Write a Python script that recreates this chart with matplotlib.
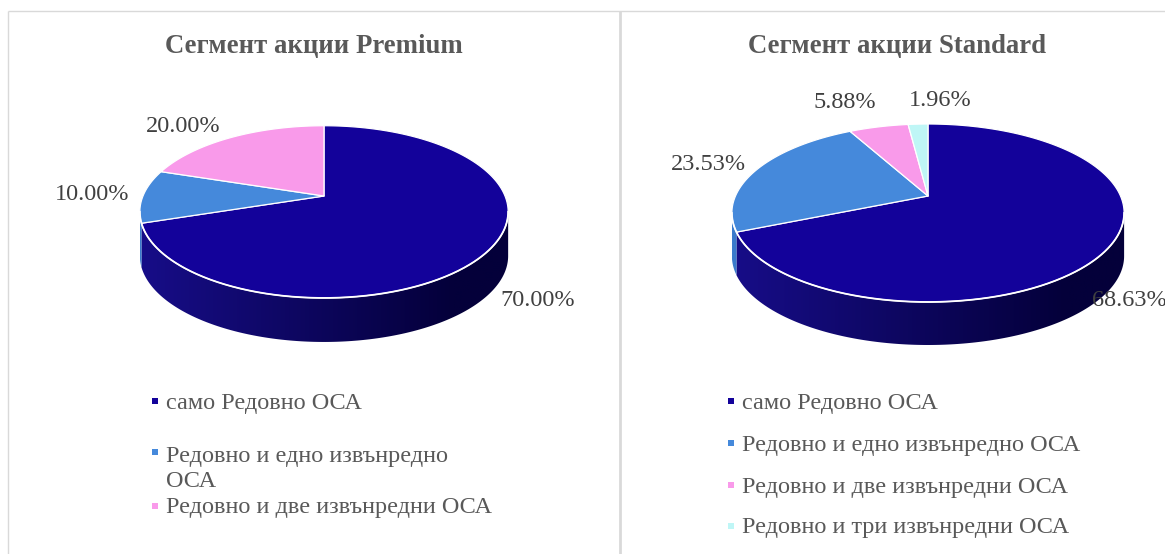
import numpy as np
import matplotlib
matplotlib.use("Agg")
import matplotlib.pyplot as plt
from matplotlib.patches import Polygon
from matplotlib.colors import to_rgb

# ---------------- data ----------------
premium_title = "Сегмент акции Premium"
premium_categories = ["само Редовно ОСА",
                      "Редовно и едно извънредно\nОСА",
                      "Редовно и две извънредни ОСА"]
premium_values = [70.00, 10.00, 20.00]

standard_title = "Сегмент акции Standard"
standard_categories = ["само Редовно ОСА",
                       "Редовно и едно извънредно ОСА",
                       "Редовно и две извънредни ОСА",
                       "Редовно и три извънредни ОСА"]
standard_values = [68.63, 23.53, 5.88, 1.96]

# ---------------- style ----------------
top_colors = ["#13029a", "#4589db", "#f99aea", "#bff6f6"]
side_light = ["#170d88", "#3b7bcc", "#e58ad6", "#a8e6e6"]
side_dark = ["#04003a", "#1d4a8a", "#9a4f90", "#6fa8a8"]
FONT = "Liberation Serif"
LABEL_COLOR = "#404040"
TEXT_COLOR = "#595959"
BORDER = "#d9d9d9"
LINE_H = 29.6  # legend line height in pixels

W, H = 1165, 554
fig = plt.figure(figsize=(W / 100, H / 100), dpi=100)
ax = fig.add_axes([0, 0, 1, 1])
ax.axis("off")

# panel borders
ax.plot([8, 8], [11, H], color=BORDER, lw=1.0, solid_capstyle="butt")
ax.plot([8, W], [11, 11], color=BORDER, lw=1.0, solid_capstyle="butt")
ax.plot([620, 620], [11, H], color=BORDER, lw=2.0, solid_capstyle="butt")


def proj(theta_deg, cx, cy, rx, ry, k):
    t = np.radians(theta_deg)
    u, v = np.cos(t), np.sin(t)
    w = 1 + k * v
    return cx + rx * u / w, cy - ry * v / w


def pie3d(values, cx, cy, rx, ry, k, depth):
    vals = np.asarray(values, float)
    cum = np.concatenate([[0], np.cumsum(vals)]) / vals.sum() * 360
    # visible side range (between silhouette extremes, through the front)
    a1 = 180 + np.degrees(np.arcsin(k))
    a2 = 360 - np.degrees(np.arcsin(k))
    allx, _ = proj(np.linspace(a1, a2, 400), cx, cy, rx, ry, k)
    xmin, xmax = allx.min(), allx.max()
    for i in range(len(vals)):
        hi = (90 - cum[i]) % 360
        lo = hi - (cum[i + 1] - cum[i])
        for shift in (-360, 0, 360):
            s, e = max(lo + shift, a1), min(hi + shift, a2)
            if e <= s:
                continue
            th = np.linspace(s, e, 200)
            px, py = proj(th, cx, cy, rx, ry, k)
            pts = list(zip(px, py)) + list(zip(px[::-1], py[::-1] + depth))
            clip = Polygon(pts, closed=True, facecolor="none", edgecolor="none")
            ax.add_patch(clip)
            n = 300
            t = np.clip(np.linspace(0, 1, n) / 0.85, 0, 1)[None, :, None]
            c0 = np.array(to_rgb(side_light[i]))[None, None, :]
            c1 = np.array(to_rgb(side_dark[i]))[None, None, :]
            img = (1 - t) * c0 + t * c1
            ytop = py.min() - 2
            ybot = py.max() + depth + 2
            im = ax.imshow(img, extent=(xmin, xmax, ybot, ytop), aspect="auto",
                           interpolation="bilinear", zorder=1)
            im.set_clip_path(clip)
    # top faces
    for i in range(len(vals)):
        start = 90 - cum[i]
        end = 90 - cum[i + 1]
        th = np.linspace(start, end, max(int(abs(end - start) * 2), 4))
        px, py = proj(th, cx, cy, rx, ry, k)
        pts = [(cx, cy)] + list(zip(px, py))
        ax.add_patch(Polygon(pts, closed=True, facecolor=top_colors[i],
                             edgecolor="white", lw=0.9, joinstyle="round", zorder=2))
    # white rim at the front
    thetas = np.linspace(a1, a2, 400)
    rxs, rys = proj(thetas, cx, cy, rx, ry, k)
    ax.plot(rxs, rys, color="white", lw=1.3, zorder=3)


def labels(values, positions):
    for v, (x, y) in zip(values, positions):
        ax.text(x, y, f"{v:.2f}%", family=FONT, fontsize=17.5, color=LABEL_COLOR,
                ha="center", va="center", zorder=4)


def legend(cats, x_marker, x_text, ys):
    for i, (c, y) in enumerate(zip(cats, ys)):
        nlines = c.count("\n") + 1
        y_first = y - (nlines - 1) * LINE_H / 2
        ax.plot([x_marker], [y_first - 2], marker="s", markersize=5,
                color=top_colors[i], markeredgewidth=0)
        ax.text(x_text, y, c, family=FONT, fontsize=17.5, color=TEXT_COLOR,
                ha="left", va="center", linespacing=1.22)


# Premium
ax.text(314, 47, premium_title, family=FONT, fontsize=19.3, fontweight="bold",
        color=TEXT_COLOR, ha="center", va="center")
pie3d(premium_values, 324, 196, 181, 83.2, 0.184, 44)
labels(premium_values, [(538, 300), (92, 195), (183, 127)])
legend(premium_categories, 155, 166, [403, 469, 508])

# Standard
ax.text(897, 47, standard_title, family=FONT, fontsize=19.3, fontweight="bold",
        color=TEXT_COLOR, ha="center", va="center")
pie3d(standard_values, 928, 196, 192.5, 85.75, 0.191, 43)
labels(standard_values, [(1129, 301), (708, 165), (845, 103), (940, 100)])
legend(standard_categories, 731, 742, [403, 445, 487, 528])

ax.set_xlim(0, W)
ax.set_ylim(H, 0)
fig.savefig("out.png", dpi=100)
